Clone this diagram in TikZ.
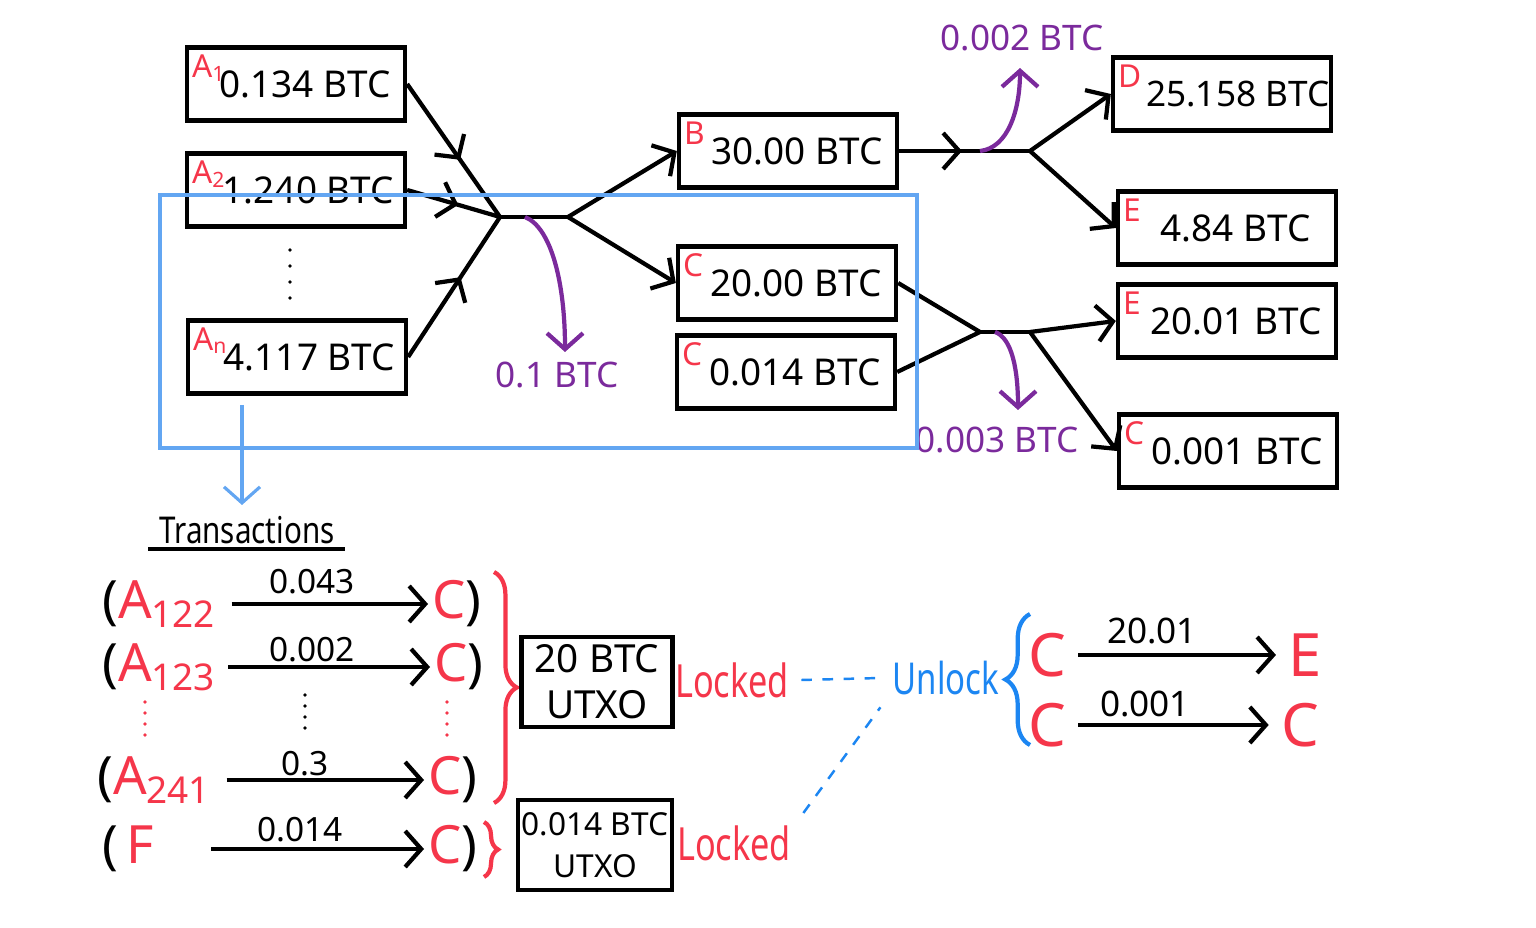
\documentclass[tikz,border=0pt]{standalone}
\usepackage{fontspec}
\setmainfont{Noto Sans}
\usetikzlibrary{arrows.meta,decorations.markings,decorations.pathreplacing}
\definecolor{tagred}{HTML}{F5364A}
\definecolor{feepurple}{HTML}{7B2A9C}
\definecolor{selblue}{HTML}{63A6F2}
\definecolor{unlockblue}{HTML}{1C86F2}
\newcommand{\narrow}[1]{\scalebox{0.75}[1]{#1}}
\begin{document}
\begin{tikzpicture}[x=0.01cm, y=-0.01cm,
    btc/.style={draw, line width=1.2pt, minimum width=2.18cm, minimum height=0.73cm, inner sep=0pt, font=\fontsize{10.5}{12}\selectfont},
    tag/.style={text=tagred, anchor=north west, inner sep=1pt, font=\fontsize{9}{10}\selectfont},
    flow/.style={line width=1.2pt},
    arrowed/.style={-{Straight Barb[length=1.6mm, width=3.6mm]}},
    midarrow/.style={postaction={decorate}, decoration={markings, mark=at position #1 with {\arrow{Straight Barb[length=1.6mm, width=3.6mm]}}}},
    fee/.style={feepurple, line width=1.2pt, -{Straight Barb[length=1.6mm, width=3.6mm]}},
    feetext/.style={text=feepurple, font=\fontsize{10}{11}\selectfont},
    tx/.style={anchor=west, inner sep=1pt, font=\fontsize{15}{16}\selectfont},
    amount/.style={inner sep=1pt, font=\bfseries\fontsize{9.5}{10}\selectfont},
    utxo/.style={draw, line width=1.2pt, minimum width=1.51cm, minimum height=0.9cm, align=center, inner sep=1pt},
    lockword/.style={text=tagred, font=\fontsize{13}{14}\selectfont},
    dashline/.style={unlockblue, line width=0.7pt, dashed}]

    \useasboundingbox (0,0) rectangle (1536,928);

    % inputs
    \node [btc] (A1) at (296,84) {\hspace*{5pt}0.134 BTC};
    \node [tag] (tA1) at ([shift={(3,5)}]A1.north west) {A\textsubscript{1}};
    \node [btc] (A2) at (296,190) {\hspace*{7pt}1.240 BTC};
    \node [tag] (tA2) at ([shift={(3,5)}]A2.north west) {A\textsubscript{2}};
    \node [btc] (An) at (297,357) {\hspace*{7pt}4.117 BTC};
    \node [tag] (tAn) at ([shift={(3,5)}]An.north west) {A\textsubscript{n}};
    \foreach \k in {0,...,3}
        \fill (290,250+\k*16) circle (1.8);

    \coordinate (j1) at (500,217);
    \coordinate (j2) at (568,217);
    \draw [flow, midarrow=0.57] (A1.east) -- (j1);
    \draw [flow, midarrow=0.55] (A2.east) -- (j1);
    \draw [flow, midarrow=0.57] (An.east) -- (j1);
    \draw [flow] (j1) -- (j2);

    % first outputs
    \node [btc] (B) at (788,151) {\hspace*{5pt}30.00 BTC};
    \node [tag] (tB) at ([shift={(3,5)}]B.north west) {B};
    \node [btc] (C1) at (787,283) {\hspace*{5pt}20.00 BTC};
    \node [tag] (tC1) at ([shift={(3,5)}]C1.north west) {C};
    \node [btc] (C2) at (786,372) {\hspace*{5pt}0.014 BTC};
    \node [tag] (tC2) at ([shift={(3,5)}]C2.north west) {C};
    \draw [flow, arrowed] (j2) -- (B.west);
    \draw [flow, arrowed] (j2) -- (C1.west);

    \coordinate (f1) at (525,217);
    \node [feetext] (fee1) at (557,375) {0.1 BTC};
    \draw [fee] (f1) .. controls (552,228) and (565,285) .. (565,352);

    % second round
    \node [btc] (D) at (1222,94) {\hspace*{9pt}\fontsize{10}{12}\selectfont 25.158 BTC};
    \node [tag] (tD) at ([shift={(3,5)}]D.north west) {D};
    \node [btc] (E1) at (1227,228) {\hspace*{5pt}4.84 BTC};
    \node [tag] (tE1) at ([shift={(3,5)}]E1.north west) {E};
    \node [btc] (E2) at (1227,321) {\hspace*{5pt}20.01 BTC};
    \node [tag] (tE2) at ([shift={(3,5)}]E2.north west) {E};
    \node [btc] (C3) at (1228,451) {\hspace*{5pt}0.001 BTC};
    \node [tag] (tC3) at ([shift={(3,5)}]C3.north west) {C};

    \coordinate (j3) at (1030,151);
    \draw [flow, midarrow=0.48] (B.east) -- (j3);
    \draw [flow, arrowed] (j3) -- (D.west);
    \draw [flow, arrowed] (j3) -- (E1.west);
    \coordinate (f2) at (980,151);
    \node [feetext] (fee2) at (1022,38) {0.002 BTC};
    \draw [fee] (f2) .. controls (1008,148) and (1020,110) .. (1020,68);

    \coordinate (j4) at (980,332);
    \coordinate (j5) at (1030,332);
    \draw [flow] (C1.east) -- (j4);
    \draw [flow] (C2.east) -- (j4);
    \draw [flow] (j4) -- (j5);
    \draw [flow, arrowed] (j5) -- (E2.west);
    \draw [flow, arrowed] (j5) -- (C3.west);
    \coordinate (f3) at (995,332);
    \node [feetext] (fee3) at (997,440) {0.003 BTC};
    \draw [fee] (f3) .. controls (1012,338) and (1018,370) .. (1018,410);

    % selection
    \draw [selblue, line width=0.9pt] (160,195) rectangle (917,448);
    \coordinate (sel) at (242,405);
    \node [font=\fontsize{10.5}{11}\selectfont] (tr) at (247,530) {\scalebox{0.8}[1]{Transactions}};
    \draw [selblue, line width=0.9pt, arrowed] (sel) -- (242,505);
    \draw [line width=1.2pt] (148,549) -- (345,549);

    % transactions
    \node [tx] (s1) at (98,604) {(\textcolor{tagred}{A\textsubscript{122}}};
    \node [tx] (r1) at (428,604) {\textcolor{tagred}{C})};
    \node [amount] (a1) at (312,582) {0.043};
    \draw [flow, arrowed] ([xshift=3pt]s1.east) -- (r1.west);

    \node [tx] (s2) at (98,667) {(\textcolor{tagred}{A\textsubscript{123}}};
    \node [tx] (r2) at (430,667) {\textcolor{tagred}{C})};
    \node [amount] (a2) at (312,650) {0.002};
    \draw [flow, arrowed] ([xshift=2pt]s2.east) -- (r2.west);

    \foreach \k in {0,...,3} {
        \fill [tagred] (145,702+\k*11) circle (1.8);
        \fill (305,695+\k*11) circle (1.8);
        \fill [tagred] (447,702+\k*11) circle (1.8);
    }

    \node [tx] (s3) at (93,780) {(\textcolor{tagred}{A\textsubscript{241}}};
    \node [tx] (r3) at (424,780) {\textcolor{tagred}{C})};
    \node [amount] (a3) at (305,764) {0.3};
    \draw [flow, arrowed] ([xshift=3pt]s3.east) -- (r3.west);

    \node [tx] (s4) at (98,849) {(\,\textcolor{tagred}{F}};
    \node [tx] (r4) at (424,849) {\textcolor{tagred}{C})};
    \node [amount] (a4) at (300,830) {0.014};
    \draw [flow, arrowed] ([xshift=15pt]s4.east) -- (r4.west);

    \draw [tagred, line width=1.2pt, decorate, decoration={brace, amplitude=6.5pt}] (494,572) -- (494,803);
    \draw [tagred, line width=1.2pt, decorate, decoration={brace, amplitude=4pt}] (484,822) -- (484,877);

    % UTXOs
    \node [utxo, font=\fontsize{11}{13}\selectfont] (u1) at (597,682) {20 BTC\\UTXO};
    \node [utxo, font=\fontsize{9}{12}\selectfont] (u2) at (595,845) {0.014 BTC\\UTXO};
    \node [lockword] (lock1) at (732,680) {\narrow{Locked}};
    \node [lockword] (lock2) at (734,843) {\narrow{Locked}};
    \node [text=unlockblue, font=\fontsize{12.5}{14}\selectfont] (unlock) at (946,678) {\narrow{Unlock}};
    \draw [dashline] (lock1.east) -- (unlock.west);
    \draw [dashline] (lock2.north east) -- (unlock.south west);

    % spending
    \draw [unlockblue, line width=1.2pt, decorate, decoration={brace, amplitude=7pt}] (1030,745) -- (1030,614);
    \node [text=tagred, font=\fontsize{17}{18}\selectfont] (c5) at (1047,655) {C};
    \node [text=tagred, font=\fontsize{17}{18}\selectfont] (e5) at (1305,655) {E};
    \node [amount, font=\bfseries\fontsize{10}{11}\selectfont] (a5) at (1152,631) {20.01};
    \draw [flow, arrowed] (c5.east) -- (e5.west);
    \node [text=tagred, font=\fontsize{17}{18}\selectfont] (c6) at (1047,725) {C};
    \node [text=tagred, font=\fontsize{17}{18}\selectfont] (c7) at (1300,725) {C};
    \node [amount, font=\bfseries\fontsize{10}{11}\selectfont] (a6) at (1145,704) {0.001};
    \draw [flow, arrowed] (c6.east) -- (c7.west);

\end{tikzpicture}
\end{document}
